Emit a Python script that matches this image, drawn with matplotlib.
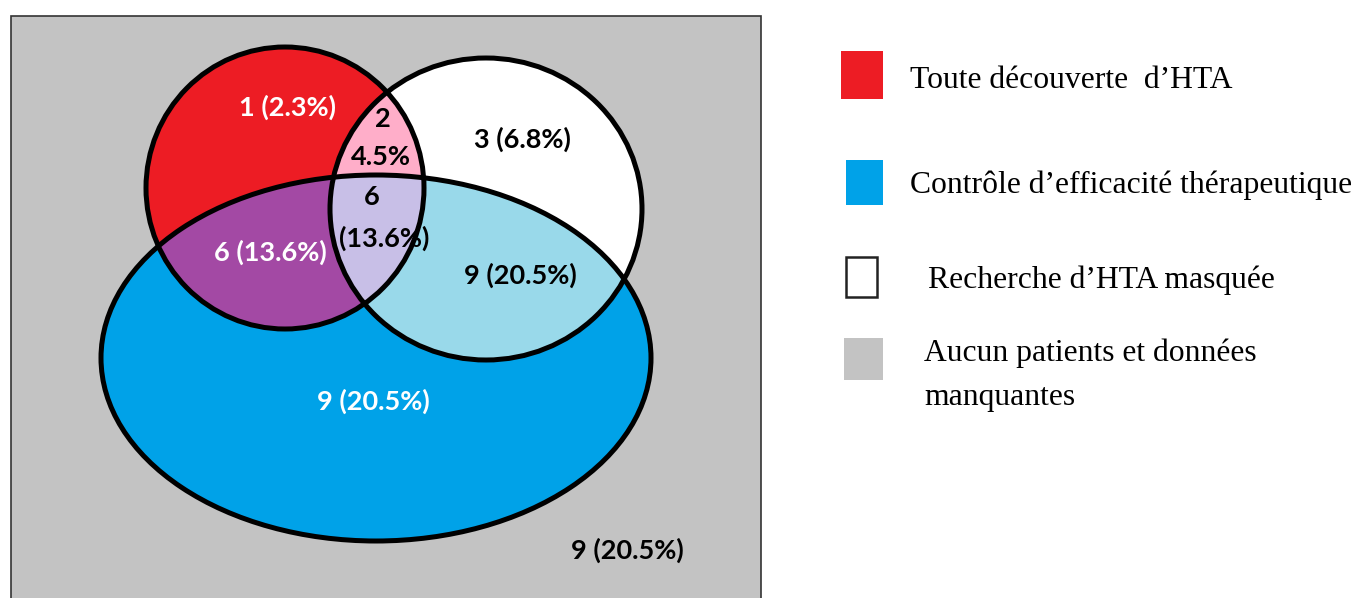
import numpy as np
import matplotlib
matplotlib.use('Agg')
import matplotlib.pyplot as plt
from matplotlib.patches import Ellipse, Rectangle, Polygon

# Legend / category labels
categories = ['Toute découverte  d\u2019HTA',
              'Contrôle d\u2019efficacité thérapeutique',
              'Recherche d\u2019HTA masquée',
              'Aucun patients et données\nmanquantes']

# Region counts and percentages
regions = ['R', 'RW', 'W', 'RWB', 'RB', 'WB', 'B', 'none']
counts = [1, 2, 3, 6, 6, 9, 9, 9]
percents = [2.3, 4.5, 6.8, 13.6, 13.6, 20.5, 20.5, 20.5]

# colours (paint palette)
RED = '#ED1C24'
BLUE = '#00A2E8'
GRAY = '#C3C3C3'
PINK = '#FFAEC9'
PURPLE = '#A349A4'
LAVENDER = '#C8BFE7'
LIGHTBLUE = '#99D9EA'

fig = plt.figure(figsize=(13.61, 5.98), dpi=100)
ax = fig.add_axes([0, 0, 1, 1])
ax.set_xlim(0, 1361)
ax.set_ylim(598, 0)
ax.axis('off')

# shapes (centre x, centre y, width, height) in pixel units
red_c = (285, 188, 278, 282)
white_c = (486, 209, 312, 302)
blue_c = (376, 358, 550, 366)


def make_ell(c, **kw):
    return Ellipse((c[0], c[1]), c[2], c[3], **kw)


def inside(c, x, y):
    return ((x - c[0]) / (c[2] / 2)) ** 2 + ((y - c[1]) / (c[3] / 2)) ** 2 <= 1.0


def boundary(c, n=1440):
    t = np.linspace(0, 2 * np.pi, n, endpoint=False)
    return c[0] + c[2] / 2 * np.cos(t), c[1] + c[3] / 2 * np.sin(t)


# lens between red and white
rx, ry = boundary(red_c)
wx, wy = boundary(white_c)
m1 = inside(white_c, rx, ry)
m2 = inside(red_c, wx, wy)
lx = np.concatenate([rx[m1], wx[m2]])
ly = np.concatenate([ry[m1], wy[m2]])
ang = np.arctan2(ly - ly.mean(), lx - lx.mean())
order = np.argsort(ang)
lens_pts = np.column_stack([lx[order], ly[order]])

# background box
ax.add_patch(Rectangle((11, 16), 750, 600, facecolor=GRAY, edgecolor='#333333', lw=1.2, zorder=0))

ax.add_patch(make_ell(white_c, facecolor='white', edgecolor='none', zorder=1))
ax.add_patch(make_ell(red_c, facecolor=RED, edgecolor='none', zorder=1))
ax.add_patch(Polygon(lens_pts, closed=True, facecolor=PINK, edgecolor='none', zorder=2))
blue_patch = make_ell(blue_c, facecolor=BLUE, edgecolor='none', zorder=3)
ax.add_patch(blue_patch)

p = make_ell(red_c, facecolor=PURPLE, edgecolor='none', zorder=4)
ax.add_patch(p)
p.set_clip_path(blue_patch)
p = make_ell(white_c, facecolor=LIGHTBLUE, edgecolor='none', zorder=5)
ax.add_patch(p)
p.set_clip_path(blue_patch)
p = Polygon(lens_pts, closed=True, facecolor=LAVENDER, edgecolor='none', zorder=6)
ax.add_patch(p)
p.set_clip_path(blue_patch)

# outlines
for c in [red_c, white_c, blue_c]:
    ax.add_patch(make_ell(c, facecolor='none', edgecolor='black', lw=3.6, zorder=7))

# region labels
lab = {}
for r, n, pc in zip(regions, counts, percents):
    lab[r] = (n, pc)

tkw = dict(ha='center', va='center', fontsize=19.5, fontweight='bold', family='Lato', zorder=8)
ax.text(288, 107, f'{lab["R"][0]} ({lab["R"][1]}%)', color='white', **tkw)
ax.text(383, 119, f'{lab["RW"][0]}', color='black', **tkw)
ax.text(381, 157, f'{lab["RW"][1]}%', color='black', **tkw)
ax.text(522, 139, f'{lab["W"][0]} ({lab["W"][1]}%)', color='black', **tkw)
ax.text(372, 197, f'{lab["RWB"][0]}', color='black', **tkw)
ax.text(384, 238, f'({lab["RWB"][1]}%)', color='black', **tkw)
ax.text(270, 252, f'{lab["RB"][0]} ({lab["RB"][1]}%)', color='white', **tkw)
ax.text(520, 275, f'{lab["WB"][0]} ({lab["WB"][1]}%)', color='black', **tkw)
ax.text(373, 401, f'{lab["B"][0]} ({lab["B"][1]}%)', color='white', **tkw)
ax.text(627, 550, f'{lab["none"][0]} ({lab["none"][1]}%)', color='black', **tkw)

# legend
legend_boxes = [(841, 51, 42, 48, RED, 'none'),
                (846, 160, 37, 45, BLUE, 'none'),
                (846, 257, 31, 40, 'white', '#222222'),
                (844, 338, 39, 42, GRAY, 'none')]
legend_text = [(910, 80), (910, 185), (928, 280), (924, 353)]
for (x, y, w, h, fc, ec), (tx, ty), lbl in zip(legend_boxes, legend_text, categories):
    ax.add_patch(Rectangle((x, y), w, h, facecolor=fc, edgecolor=ec, lw=1.8))
    for i, line in enumerate(lbl.split('\n')):
        ax.text(tx, ty + 44 * i, line, ha='left', va='center', fontsize=22.8,
                family='Liberation Serif', color='black')

fig.savefig('out.png', dpi=100)
